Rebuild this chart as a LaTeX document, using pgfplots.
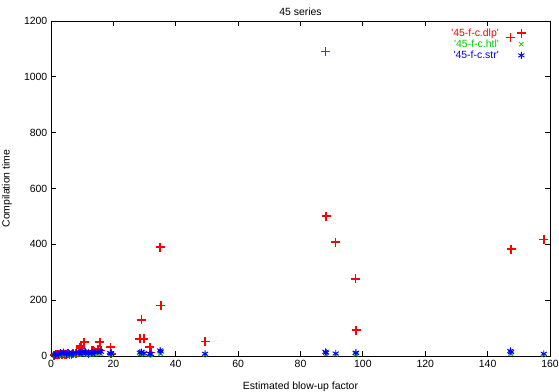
\documentclass[border=0pt]{standalone}
\usepackage{fontspec}
\setmainfont{Liberation Sans}
\usepackage{pgfplots}
\usepackage{pgfplotstable}
\pgfplotsset{compat=1.18}
\definecolor{gpred}{RGB}{255,0,0}
\definecolor{gpgreen}{RGB}{0,200,0}
\definecolor{gpblue}{RGB}{0,0,255}
\pgfplotstableread{
x dlp htl str
1.0 3 2 4
1.5 5 3 6
2.0 4 4 8
2.5 6 3 5
3.0 8 5 12
3.5 5 4 9
4.0 10 6 14
4.5 7 5 10
5.0 6 4 7
5.5 9 6 11
6.0 7 5 8
6.5 5 3 6
7.0 8 4 9
8.0 10 6 12
9.0 12 5 10
9.3 29 7 13
9.6 35 8 15
10.0 18 6 11
10.6 50 9 16
11.0 14 7 12
12.0 10 5 9
13.0 20 6 10
13.4 18 7 13
14.0 15 6 12
15.0 25 8 14
15.7 50 10 18
16.0 20 8 15
19.0 32 6 10
19.3 8 5 9
28.5 61 7 12
29.0 129 8 14
29.8 61 6 10
31.7 32 5 8
32.0 12 4 7
35.0 390 10 20
35.2 180 8 16
49.4 52 5 8
88.0 1090 12 15
88.2 501 8 12
91.3 408 6 9
97.7 276 7 11
97.8 93 6 12
147.3 1140 10 18
147.5 383 9 14
158.0 418 5 8
}\data
\newcommand{\gpfont}{\fontsize{10.5}{12}\selectfont}
\begin{document}
\gpfont
\begin{tikzpicture}
\useasboundingbox (0,0) rectangle (559bp,392bp);
\begin{axis}[
  at={(51bp,36bp)}, anchor=south west,
  scale only axis, width=499bp, height=335bp,
  xmin=0, xmax=160, ymin=0, ymax=1200,
  xtick={0,20,...,160}, ytick={0,200,...,1200},
  tick align=inside, major tick length=5bp,
  axis line style={black, line width=0.8pt},
  every tick/.style={black, line width=0.8pt},
  /pgf/number format/assume math mode=true,
  /pgf/number format/set thousands separator={},
  tick label style={font=\gpfont, text=black},
  xticklabel style={yshift=-1bp},
  label style={font=\gpfont, text=black},
  title style={font=\gpfont, text=black, at={(0.5,1)}, anchor=base, yshift=0bp},
  title={45 series},
  xlabel={Estimated blow-up factor},
  ylabel={Compilation time},
  xlabel style={at={(0.5,0)}, anchor=center, yshift=-31bp},
  ylabel style={at={(axis description cs:0,0.5)}, anchor=center, yshift=44bp},
  legend plot pos=right,
  legend cell align=right,
  legend style={draw=none, fill=none, at={(0.952,0.984)}, anchor=north east,
    font=\gpfont, row sep=-2bp, inner sep=0bp,
    /tikz/every odd column/.append style={column sep=16bp}},
  clip=false,
]
\addplot[only marks, mark=+, color=gpred, mark size=4.5bp, line width=1.5bp] table[x=x, y=dlp] {\data};
\addlegendentry[text=gpred]{\textquotesingle45-f-c.dlp\textquotesingle}
\addplot[only marks, mark=x, color=gpgreen, mark size=3bp, line width=0.8bp] table[x=x, y=htl] {\data};
\addlegendentry[text=gpgreen]{\textquotesingle45-f-c.htl\textquotesingle}
\addplot[only marks, mark=asterisk, color=gpblue, mark size=3.5bp, line width=0.9bp] table[x=x, y=str] {\data};
\addlegendentry[text=gpblue]{\textquotesingle45-f-c.str\textquotesingle}
\end{axis}
\end{tikzpicture}
\end{document}
